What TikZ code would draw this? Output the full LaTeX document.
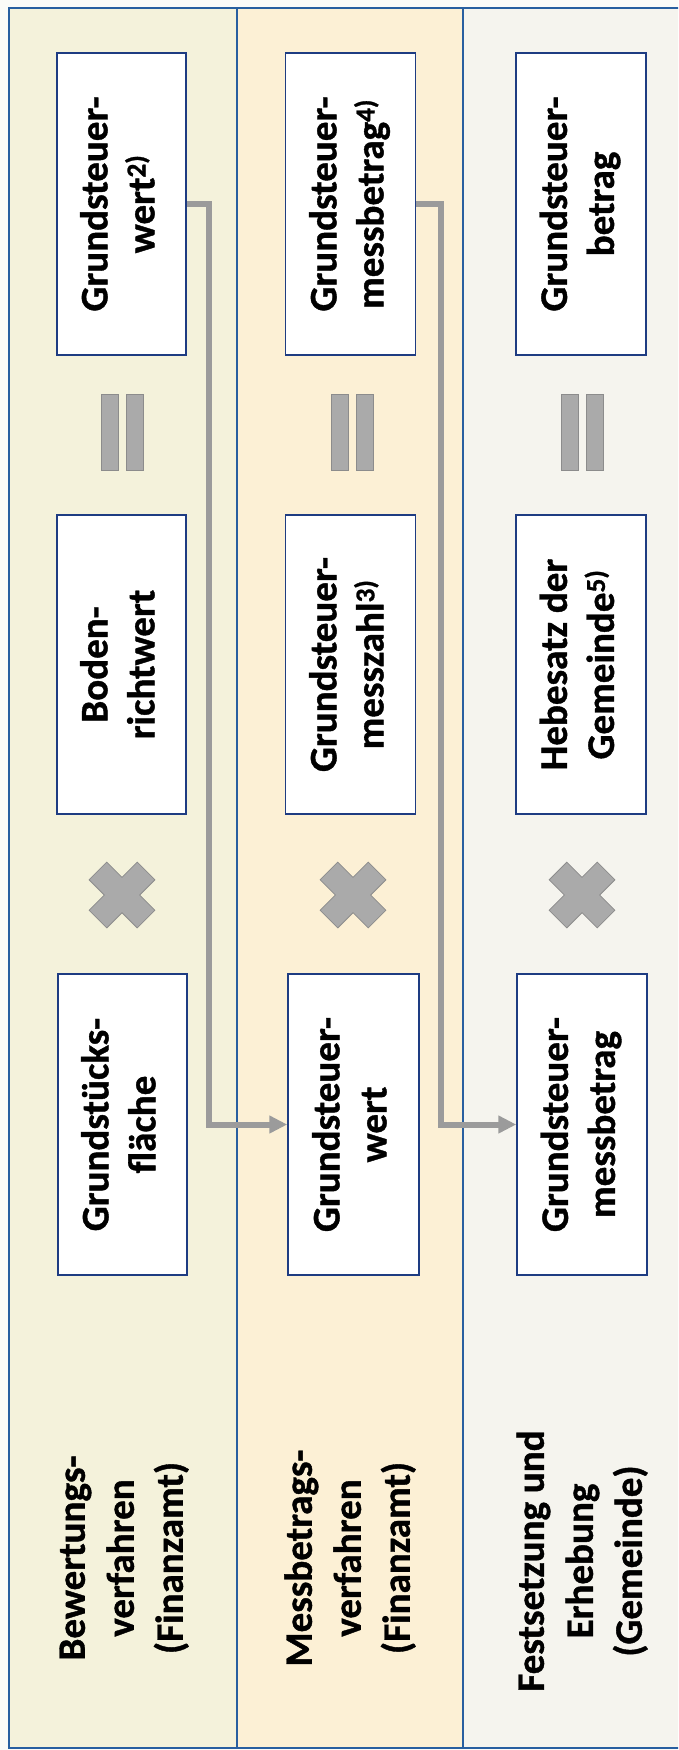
\documentclass[tikz,border=0pt]{standalone}
\usepackage{fontspec}
\setmainfont{Carlito}[BoldFeatures={FakeBold=1}]
\usepackage{graphicx}
\usetikzlibrary{arrows.meta}
\definecolor{colA}{RGB}{244,242,219}
\definecolor{colB}{RGB}{252,240,213}
\definecolor{colC}{RGB}{245,244,238}
\definecolor{paper}{RGB}{251,251,248}
\definecolor{framec}{RGB}{40,95,160}
\definecolor{boxc}{RGB}{30,60,130}
\definecolor{shapefill}{RGB}{170,170,170}
\definecolor{shapeline}{RGB}{140,140,140}
\definecolor{connc}{RGB}{155,155,155}
\newcommand{\twol}[2]{\rotatebox{90}{\begin{tabular}{@{}c@{}}#1\\#2\end{tabular}}}
\newcommand{\threel}[3]{\rotatebox{90}{\begin{tabular}{@{}c@{}}#1\\#2\\#3\end{tabular}}}
\begin{document}
\begin{tikzpicture}[x=1pt,y=-1pt,
  valbox/.style={draw=boxc, line width=1.5pt, fill=white, inner sep=0pt,
    minimum width=129pt, minimum height=302pt,
    font=\fontsize{39}{47}\selectfont\bfseries},
  lbl/.style={inner sep=0pt, font=\fontsize{39}{49}\selectfont\bfseries},
  conn/.style={draw=connc, line width=6pt, line join=miter,
    -{Triangle[length=18pt,width=17pt]}},
  eqbar/.style={fill=shapefill, draw=shapeline, line width=0.8pt},
  xmark/.style={fill=shapefill, draw=shapeline, line width=0.8pt, line join=miter},
  colline/.style={draw=framec, line width=1.5pt}
]
\useasboundingbox (0,0) rectangle (678,1750);
\clip (0,0) rectangle (678,1750);
\fill[paper] (0,0) rectangle (678,1750);
% columns
\fill[colA] (9,8) rectangle (237,1748);
\fill[colB] (237,8) rectangle (463,1748);
\fill[colC] (463,8) rectangle (692,1748);
\draw[colline] (9,8) rectangle (692,1748);
\draw[colline] (237,8) -- (237,1748);
\draw[colline] (463,8) -- (463,1748);

% boxes column 1
\node[valbox] (gw1) at (121.5,204) {\twol{Grundsteuer-}{wert\textsuperscript{2)}}};
\node[valbox, minimum height=299pt] (brw) at (121.5,664.5) {\twol{Boden-}{richtwert}};
\node[valbox, minimum height=301pt] (gsf) at (122.5,1124.5) {\twol{Grundstücks-}{fläche}};
% boxes column 2
\node[valbox, minimum width=130pt] (gmb2) at (350.5,204) {\twol{Grundsteuer-}{messbetrag\textsuperscript{4)}}};
\node[valbox, minimum width=130pt, minimum height=299pt] (gmz) at (350.5,664.5) {\twol{Grundsteuer-}{messzahl\textsuperscript{3)}}};
\node[valbox, minimum width=131pt, minimum height=301pt] (gw2) at (353.5,1124.5) {\twol{Grundsteuer-}{wert}};
% boxes column 3
\node[valbox, minimum width=130pt] (gb) at (581,204) {\twol{Grundsteuer-}{betrag}};
\node[valbox, minimum width=130pt, minimum height=299pt] (hs) at (581,664.5) {\twol{Hebesatz der}{Gemeinde\textsuperscript{5)}}};
\node[valbox, minimum width=130pt, minimum height=301pt] (gmb3) at (582,1124.5) {\twol{Grundsteuer-}{messbetrag}};

% column labels
\node[lbl] (l1) at (124,1558) {\threel{Bewertungs-}{verfahren}{(Finanzamt)}};
\node[lbl] (l2) at (351,1558) {\threel{Messbetrags-}{verfahren}{(Finanzamt)}};
\node[lbl] (l3) at (583,1561) {\threel{Festsetzung und}{Erhebung}{(Gemeinde)}};

% equals signs
\foreach \cx in {122,352.5,582.5}{
  \filldraw[eqbar] (\cx-21,394) rectangle (\cx-4,470);
  \filldraw[eqbar] (\cx+4,394) rectangle (\cx+21,470);
}
% times signs
\foreach \cx in {122,353,582}{
  \begin{scope}[shift={(\cx,895)}, rotate=45]
    \filldraw[xmark] (12.5,12.5) -- (34,12.5) -- (34,-12.5) -- (12.5,-12.5)
      -- (12.5,-34) -- (-12.5,-34) -- (-12.5,-12.5) -- (-34,-12.5)
      -- (-34,12.5) -- (-12.5,12.5) -- (-12.5,34) -- (12.5,34) -- cycle;
  \end{scope}
}

% connectors
\draw[conn] (gw1.east) -- ++(22,0) |- (gw2.west);
\draw[conn] (gmb2.east) -- ++(24.5,0) |- (gmb3.west);
\end{tikzpicture}
\end{document}
